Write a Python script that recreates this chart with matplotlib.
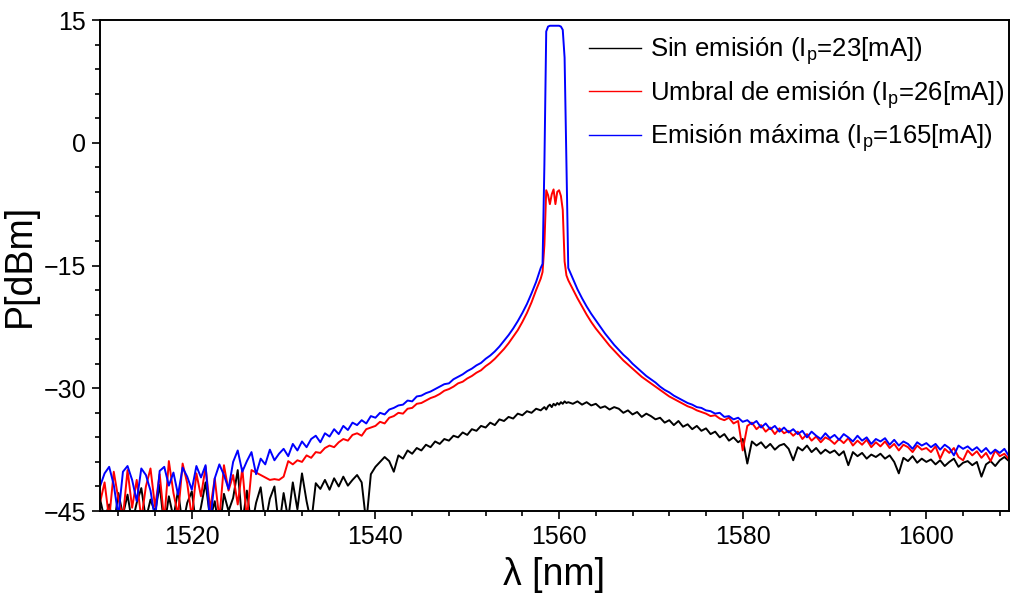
import numpy as np
import matplotlib
matplotlib.use("Agg")
import matplotlib.pyplot as plt
from matplotlib.ticker import MultipleLocator

plt.rcParams["font.family"] = ["Liberation Sans", "DejaVu Sans"]
plt.rcParams["mathtext.fontset"] = "custom"
plt.rcParams["mathtext.rm"] = "Liberation Sans"
plt.rcParams["mathtext.it"] = "Liberation Sans"

# Longitud de onda [nm]: paso 0.5 nm, y 0.2 nm alrededor del pico láser
wl = np.concatenate([np.arange(1510.0, 1558.01, 0.5),
                     np.arange(1558.2, 1561.01, 0.2),
                     np.arange(1561.5, 1609.51, 0.5)])

# Sin emisión (Ip = 23 mA)
p_sin = [
    -43.5, -46.0, -44.2, -47.0, -42.8, -45.5, -43.0, -46.5, -44.0, -42.2,
    -46.0, -43.6, -45.2, -41.8, -47.0, -43.2, -45.8, -42.5, -46.8, -44.0,
    -42.6, -47.0, -44.5, -41.5, -46.0, -43.8, -47.5, -42.9, -45.0, -43.4,
    -40.0, -46.5, -42.5, -47.0, -44.0, -42.1, -46.5, -43.5, -42.0, -47.0,
    -42.8, -46.0, -41.5, -44.8, -40.4, -43.8, -46.5, -41.6, -42.3, -41.2,
    -42.4, -41.0, -42.0, -40.8, -41.9, -41.2, -40.6, -41.5, -46.5, -40.5,
    -39.6, -39.0, -38.4, -38.9, -40.2, -38.2, -38.6, -37.6, -38.0, -37.3,
    -37.6, -36.9, -37.2, -36.5, -36.8, -36.2, -36.4, -35.8, -36.0, -35.4,
    -35.7, -35.0, -35.2, -34.6, -34.8, -34.2, -34.5, -33.8, -34.0, -33.5,
    -33.7, -33.1, -33.3, -32.8, -33.0, -32.5, -32.7,
    -32.5, -32.3, -32.6, -32.2, -32.0, -32.3, -31.9, -32.1, -31.8, -32.0,
    -31.7, -31.9, -31.6, -31.8, -31.7,
    -31.9, -31.6, -32.0, -31.7, -32.1, -31.9, -32.4, -32.2,
    -32.6, -32.3, -32.5, -33.0, -32.7, -33.2, -32.9, -33.5, -33.1, -33.4,
    -33.8, -33.6, -34.2, -33.9, -34.5, -34.0, -34.7, -34.4, -35.0, -34.6,
    -35.2, -34.9, -35.6, -35.3, -36.0, -35.6, -36.4, -36.0, -36.6, -36.2,
    -39.2, -36.5, -37.0, -36.6, -37.3, -36.8, -37.5, -37.0, -36.8, -37.4,
    -38.8, -37.2, -37.6, -37.0, -37.8, -37.3, -38.0, -37.5, -37.9, -37.6,
    -38.2, -37.7, -39.4, -37.8, -38.3, -37.9, -38.6, -38.1, -38.4, -38.0,
    -38.6, -38.2, -39.0, -40.4, -38.5, -38.9, -38.3, -39.1, -38.6, -39.0,
    -38.7, -39.3, -38.8, -39.5, -39.0, -38.6, -39.6, -39.1, -38.9, -39.4,
    -39.0, -40.8, -39.3, -38.9, -39.5, -38.8, -38.4, -38.9, -38.2,
]

# Umbral de emisión (Ip = 26 mA)
p_umbral = [
    -44.0, -41.5, -46.0, -40.2, -43.5, -45.8, -40.0, -44.6, -41.2, -46.0,
    -42.0, -39.8, -44.5, -40.5, -46.2, -38.9, -42.8, -45.5, -39.2, -41.6,
    -45.8, -40.4, -43.2, -39.6, -44.8, -41.0, -46.0, -39.4, -42.5, -40.6,
    -44.2, -39.8, -46.0, -40.0, -40.3, -40.6, -40.9, -41.2, -41.1, -41.2,
    -40.8, -38.9, -39.3, -38.8, -39.0, -38.2, -38.5, -37.8, -37.9, -37.3,
    -37.0, -37.2, -36.6, -36.2, -36.4, -35.7, -35.5, -35.8, -35.0, -34.8,
    -34.6, -34.1, -34.3, -33.6, -33.4, -33.0, -33.1, -32.5, -32.4, -31.9,
    -31.8, -31.5, -31.2, -31.0, -30.7, -30.3, -30.1, -29.8, -29.4, -29.2,
    -28.8, -28.5, -28.1, -27.8, -27.3, -26.9, -26.4, -25.8, -25.2, -24.5,
    -23.7, -22.9, -21.9, -20.8, -19.5, -18.0, -16.6,
    -15.8, -12.5, -5.8, -6.4, -7.5, -6.3, -5.7, -7.5, -6.0, -5.8,
    -6.5, -8.2, -14.5, -16.2, -16.8,
    -17.9, -19.0, -20.0, -21.0, -21.9, -22.7, -23.4, -24.1,
    -24.8, -25.4, -26.0, -26.6, -27.1, -27.6, -28.1, -28.6, -29.0, -29.4,
    -29.8, -30.2, -30.6, -31.0, -31.3, -31.6, -31.9, -32.2, -32.4, -32.7,
    -32.9, -33.1, -33.4, -33.3, -33.7, -33.9, -33.6, -34.3, -34.0, -37.6,
    -34.6, -34.2, -35.0, -34.5, -35.3, -34.8, -35.6, -34.9, -35.5, -35.2,
    -35.8, -35.3, -36.2, -35.6, -36.4, -35.9, -36.6, -36.0, -36.3, -36.8,
    -36.2, -36.7, -36.1, -37.0, -36.4, -36.9, -36.3, -37.2, -36.6, -37.1,
    -36.5, -37.3, -36.8, -37.6, -36.9, -37.2, -37.8, -37.0, -37.5, -37.3,
    -37.8, -37.1, -38.6, -37.4, -37.9, -37.3, -38.4, -38.8, -37.6, -38.2,
    -37.7, -38.5, -37.9, -38.9, -37.6, -38.3, -38.0, -38.7, -38.1,
]

# Emisión máxima (Ip = 165 mA)
p_max = [
    -42.0, -40.4, -39.6, -41.8, -45.6, -40.2, -39.5, -41.2, -43.8, -39.8,
    -40.6, -42.5, -46.0, -40.1, -39.6, -41.9, -40.3, -43.0, -39.7, -40.8,
    -42.4, -39.5, -40.9, -39.4, -46.5, -41.0, -39.3, -40.6, -42.3, -39.0,
    -37.6, -40.2, -38.9, -37.8, -40.5, -38.6, -39.3, -37.5, -38.8, -38.0,
    -37.4, -38.3, -36.8, -37.6, -36.5, -37.2, -36.2, -35.8, -36.6, -35.5,
    -35.9, -35.0, -35.6, -34.6, -35.1, -34.2, -34.5, -33.9, -34.3, -33.4,
    -33.6, -33.0, -33.2, -32.6, -32.4, -32.1, -32.0, -31.5, -31.6, -31.0,
    -30.9, -30.6, -30.4, -30.1, -29.8, -29.5, -29.4, -28.9, -28.6, -28.3,
    -27.9, -27.6, -27.2, -26.9, -26.4, -26.0, -25.5, -24.9, -24.2, -23.5,
    -22.7, -21.8, -20.8, -19.7, -18.4, -17.0, -15.3,
    -14.8, -2.7, 13.6, 14.2, 14.3, 14.3, 14.3, 14.3, 14.3, 14.3,
    14.2, 13.8, 10.4, -2.4, -15.3,
    -16.6, -17.9, -19.0, -20.0, -20.9, -21.7, -22.5, -23.3,
    -24.0, -24.7, -25.3, -25.9, -26.4, -27.0, -27.5, -28.0, -28.5, -28.9,
    -29.3, -29.8, -30.2, -30.5, -30.9, -31.2, -31.5, -31.8, -32.0, -32.3,
    -32.4, -32.7, -32.8, -33.1, -33.0, -33.5, -33.4, -33.8, -33.6, -34.1,
    -33.9, -34.4, -34.0, -34.8, -34.3, -35.0, -34.6, -35.3, -34.8, -35.4,
    -35.0, -35.6, -35.2, -36.0, -35.3, -35.8, -36.2, -35.5, -36.1, -35.7,
    -36.3, -35.6, -36.0, -36.5, -35.8, -36.4, -36.0, -36.8, -36.2, -36.5,
    -36.1, -36.9, -36.3, -37.0, -36.5, -36.8, -37.4, -36.6, -37.0, -36.7,
    -37.2, -36.8, -37.5, -36.9, -37.3, -38.2, -37.0, -37.4, -37.1, -37.6,
    -37.2, -37.8, -37.3, -38.0, -37.5, -37.9, -37.4, -38.3, -37.8,
]

etiquetas = [
    r"Sin emisión (I$_\mathregular{p}$=23[mA])",
    r"Umbral de emisión (I$_\mathregular{p}$=26[mA])",
    r"Emisión máxima (I$_\mathregular{p}$=165[mA])",
]
colores = ["black", "red", "blue"]

fig = plt.figure(figsize=(10.1, 5.94), dpi=100)
ax = fig.add_axes([0.099, 0.1397, 0.900, 0.8266])

for serie, etiqueta, color in zip([p_sin, p_umbral, p_max], etiquetas, colores):
    ax.plot(wl, serie, color=color, linewidth=1.4, label=etiqueta)

ax.set_xlim(1510, 1609)
ax.set_ylim(-45, 15)
ax.xaxis.set_major_locator(MultipleLocator(20))
ax.xaxis.set_minor_locator(MultipleLocator(4))
ax.yaxis.set_major_locator(MultipleLocator(15))
ax.yaxis.set_minor_locator(MultipleLocator(3))
ax.tick_params(which="both", direction="out", top=False, right=False,
               labelsize=18, width=1.2)
ax.tick_params(which="major", length=6, pad=4)
ax.tick_params(which="minor", length=3.5)
for s in ax.spines.values():
    s.set_linewidth(1.4)

ax.set_xlabel("λ [nm]", fontsize=27, labelpad=6)
ax.set_ylabel("P[dBm]", fontsize=27, labelpad=4)

leg = ax.legend(loc="upper right", bbox_to_anchor=(1.014, 1.005), frameon=False,
                fontsize=18.5, handlelength=2.0, handletextpad=0.35,
                labelspacing=0.45, borderaxespad=0.4, borderpad=0.3)
for h in leg.get_lines():
    h.set_linewidth(1.0)

fig.savefig("out.png", dpi=100)
